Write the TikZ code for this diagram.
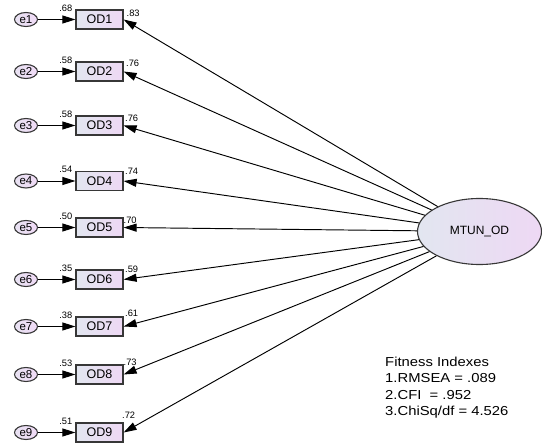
\documentclass[tikz,border=0pt]{standalone}
\usepackage{fontspec}
\setmainfont{Liberation Sans}
\usetikzlibrary{arrows.meta,shapes.geometric}
\definecolor{boxL}{RGB}{226,230,240}
\definecolor{boxR}{RGB}{238,216,244}
\definecolor{errL}{RGB}{232,226,242}
\definecolor{errR}{RGB}{240,218,246}
\definecolor{edge}{RGB}{55,55,55}
\tikzset{
  obs/.style={draw=edge, line width=1.2pt, left color=boxL, right color=boxR,
    minimum width=47pt, minimum height=19pt, inner sep=0pt,
    font=\fontsize{12.5}{14}\selectfont},
  err/.style={ellipse, draw=edge, line width=1.1pt, left color=errL, right color=errR,
    minimum width=23pt, minimum height=14pt, inner sep=0pt,
    font=\fontsize{11.5}{13}\selectfont},
  lat/.style={ellipse, draw=edge, line width=1.1pt, left color=boxL, right color=boxR,
    minimum width=124pt, minimum height=66pt, inner sep=0pt,
    font=\fontsize{12}{14}\selectfont},
  num/.style={font=\fontsize{9.3}{11}\selectfont, inner sep=0pt},
  arr/.style={-{Triangle[length=13pt,width=8pt]}, line width=0.95pt, draw=black}
}
\begin{document}
\begin{tikzpicture}[x=1pt,y=-1pt]
\useasboundingbox (0,0) rectangle (542,444);
\node[lat] (F) at (479.5,231.5) {MTUN\_OD};
\foreach \i/\y/\l/\r/\rx/\ry in {
  1/19.5/.68/.83/126.5/16.7,
  2/71.5/.58/.76/126/66.7,
  3/125.5/.58/.76/125/121.7,
  4/181/.54/.74/125/175,
  5/227.5/.50/.70/123.5/223,
  6/279.5/.35/.59/125/272.7,
  7/326.5/.38/.61/125/316.7,
  8/374.5/.53/.73/123.5/365,
  9/432.5/.51/.72/122/418}{
  \node[obs] (od\i) at (99.5,\y) {OD\i};
  \node[err] (e\i) at (26,\y) {e\i};
  \node[num, anchor=base east] (sl\i) at (72.5,\y-8) {\l};
  \node[num, anchor=base west] (ld\i) at (\rx,\ry) {\r};
  \draw[arr] (e\i) -- (od\i);
  \draw[arr] (F) -- (od\i.east);
}
\node[anchor=north west, inner sep=0pt, align=left, xscale=1.14, transform shape,
  font=\fontsize{13}{16.6}\selectfont] (fit) at (385,356.5)
  {Fitness Indexes\\1.RMSEA = .089\\2.CFI \ = .952\\3.ChiSq/df = 4.526};
\end{tikzpicture}
\end{document}
